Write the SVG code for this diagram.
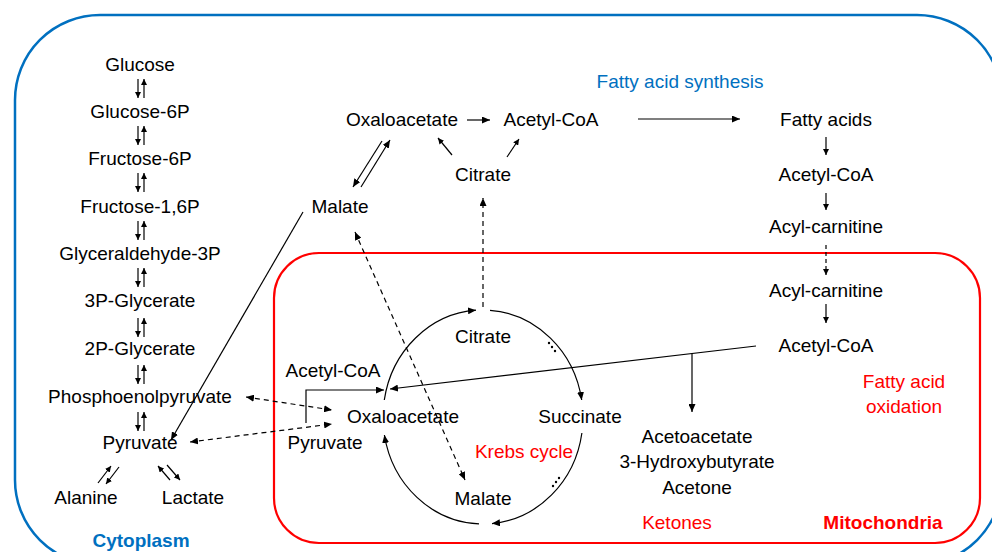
<svg xmlns="http://www.w3.org/2000/svg" width="992" height="552" viewBox="0 0 992 552">
<style>
text{font-family:"Liberation Sans",Arial,sans-serif;font-size:19px;fill:#000;text-anchor:middle}
.blue{fill:#0070C0}
.red{fill:#FF0000}
.b{font-weight:bold}
.ln{stroke:#000;stroke-width:1.2;fill:none}
.sm{stroke:#000;stroke-width:1.2;fill:none;marker-end:url(#ah)}
.ar{stroke:#000;stroke-width:1.2;fill:none;marker-end:url(#a)}
.bi{stroke:#000;stroke-width:1.2;fill:none;marker-end:url(#a);marker-start:url(#a)}
.d{stroke-dasharray:5,4}
</style>
<defs>
<marker id="a" markerUnits="userSpaceOnUse" markerWidth="9" markerHeight="7" refX="8" refY="3.5" orient="auto-start-reverse"><path d="M0,0 L8,3.5 L0,7 z" fill="#000"/></marker>
<marker id="ah" markerUnits="userSpaceOnUse" markerWidth="7" markerHeight="6" refX="6" refY="3" orient="auto"><path d="M0,0 L6,3 L0,6 z" fill="#000"/></marker>
</defs>

<g id="compartments">
<rect id="cytoplasm-box" x="15" y="15" width="987" height="550" rx="85" fill="none" stroke="#0070C0" stroke-width="2.5"/>
<rect id="mitochondria-box" x="274" y="253" width="706" height="290" rx="45" fill="none" stroke="#FF0000" stroke-width="2.2"/>
</g>

<g id="connectors">
<g id="glyco-arrows">
<line class="sm" x1="138" y1="79" x2="138" y2="98"/><line class="sm" x1="144" y1="98" x2="144" y2="79"/>
<line class="sm" x1="138" y1="126" x2="138" y2="145"/><line class="sm" x1="144" y1="145" x2="144" y2="126"/>
<line class="sm" x1="138" y1="173" x2="138" y2="192"/><line class="sm" x1="144" y1="192" x2="144" y2="173"/>
<line class="sm" x1="138" y1="221" x2="138" y2="240"/><line class="sm" x1="144" y1="240" x2="144" y2="221"/>
<line class="sm" x1="138" y1="268" x2="138" y2="287"/><line class="sm" x1="144" y1="287" x2="144" y2="268"/>
<line class="sm" x1="138" y1="318" x2="138" y2="337"/><line class="sm" x1="144" y1="337" x2="144" y2="318"/>
<line class="sm" x1="138" y1="365" x2="138" y2="384"/><line class="sm" x1="144" y1="384" x2="144" y2="365"/>
<line class="sm" x1="138" y1="412" x2="138" y2="431"/><line class="sm" x1="144" y1="431" x2="144" y2="412"/>
<line class="sm" x1="98" y1="483" x2="111" y2="466"/><line class="sm" x1="119" y1="467" x2="106" y2="484"/>
<line class="sm" x1="170" y1="480" x2="158" y2="466"/><line class="sm" x1="167" y1="465" x2="180" y2="480"/>
</g>
<line class="ar" x1="303" y1="212" x2="171" y2="440"/>
<line class="ar" x1="467" y1="120" x2="490" y2="120"/>
<line class="sm" x1="452" y1="155" x2="438" y2="138"/>
<line class="sm" x1="507" y1="157" x2="519" y2="139"/>
<line class="ar" x1="382" y1="141" x2="353" y2="187"/>
<line class="ar" x1="361" y1="187" x2="390" y2="140"/>
<line class="ar" x1="638" y1="119" x2="740" y2="119"/>
<line class="sm" x1="826" y1="137" x2="826" y2="155"/>
<line class="sm" x1="826" y1="193" x2="826" y2="210"/>
<line class="sm" x1="826" y1="245" x2="826" y2="275" stroke-dasharray="4,3"/>
<line class="sm" x1="826" y1="304" x2="826" y2="323"/>
<line class="ar d" x1="483" y1="307" x2="483" y2="198"/>
<line class="bi d" x1="355" y1="232" x2="465" y2="480"/>
<line class="bi d" x1="246" y1="397" x2="332" y2="410"/>
<line class="bi d" x1="190" y1="442" x2="332" y2="424"/>
<polyline class="ar" points="306,423 306,390 384,390"/>
<line class="ar" x1="756" y1="346" x2="390" y2="389"/>
<line class="ar" x1="692" y1="353.5" x2="692" y2="412"/>
<path class="ar" d="M384.3,400 A100,107 0 0 1 476,310.2"/>
<path class="ar" d="M490,310.3 A100,107 0 0 1 581.7,400"/>
<path class="ar" d="M581.9,433 A100,107 0 0 1 492,523.6"/>
<path class="ar" d="M479,523.9 A100,107 0 0 1 384.4,435"/>
<g id="dots" fill="#000">
<circle cx="549" cy="343" r="1.2"/><circle cx="552" cy="347" r="1.2"/><circle cx="555" cy="351" r="1.2"/>
<circle cx="553" cy="486" r="1.2"/><circle cx="556" cy="482" r="1.2"/><circle cx="559" cy="478" r="1.2"/>
</g>
</g>

<g id="glucose"><text x="140" y="71">Glucose</text></g>
<g id="glucose-6p"><text x="140" y="118">Glucose-6P</text></g>
<g id="fructose-6p"><text x="140" y="165">Fructose-6P</text></g>
<g id="fructose-16p"><text x="140" y="213">Fructose-1,6P</text></g>
<g id="glyceraldehyde-3p"><text x="140" y="260">Glyceraldehyde-3P</text></g>
<g id="3p-glycerate"><text x="140" y="307">3P-Glycerate</text></g>
<g id="2p-glycerate"><text x="140" y="355">2P-Glycerate</text></g>
<g id="pep"><text x="140" y="403">Phosphoenolpyruvate</text></g>
<g id="pyruvate-cyto"><text x="140" y="449">Pyruvate</text></g>
<g id="alanine"><text x="86" y="504">Alanine</text></g>
<g id="lactate"><text x="193" y="504">Lactate</text></g>
<g id="cytoplasm-label"><text class="blue b" x="141" y="547">Cytoplasm</text></g>

<g id="oxaloacetate-cyto"><text x="402" y="126">Oxaloacetate</text></g>
<g id="acetylcoa-cyto"><text x="551" y="126">Acetyl-CoA</text></g>
<g id="citrate-cyto"><text x="483" y="181">Citrate</text></g>
<g id="malate-cyto"><text x="340" y="213">Malate</text></g>
<g id="fas-label"><text class="blue" x="680" y="88">Fatty acid synthesis</text></g>
<g id="fatty-acids"><text x="826" y="126">Fatty acids</text></g>
<g id="acetylcoa-fa"><text x="826" y="181">Acetyl-CoA</text></g>
<g id="acylcarnitine-cyto"><text x="826" y="233">Acyl-carnitine</text></g>

<g id="acylcarnitine-mito"><text x="826" y="297">Acyl-carnitine</text></g>
<g id="acetylcoa-mito"><text x="826" y="352">Acetyl-CoA</text></g>
<g id="fao-label"><text class="red" x="904" y="388">Fatty acid</text><text class="red" x="904" y="413">oxidation</text></g>
<g id="ketone-bodies"><text x="697" y="443">Acetoacetate</text><text x="697" y="468">3-Hydroxybutyrate</text><text x="697" y="494">Acetone</text></g>
<g id="ketones-label"><text class="red" x="677" y="529">Ketones</text></g>
<g id="mito-label"><text class="red b" x="883" y="529">Mitochondria</text></g>

<g id="citrate-mito"><text x="483" y="343">Citrate</text></g>
<g id="acetylcoa-krebs"><text x="333" y="377">Acetyl-CoA</text></g>
<g id="oxaloacetate-mito"><text x="403" y="423">Oxaloacetate</text></g>
<g id="pyruvate-mito"><text x="325" y="449">Pyruvate</text></g>
<g id="succinate"><text x="580" y="423">Succinate</text></g>
<g id="krebs-label"><text class="red" x="524" y="458">Krebs cycle</text></g>
<g id="malate-mito"><text x="483" y="505">Malate</text></g>
</svg>
